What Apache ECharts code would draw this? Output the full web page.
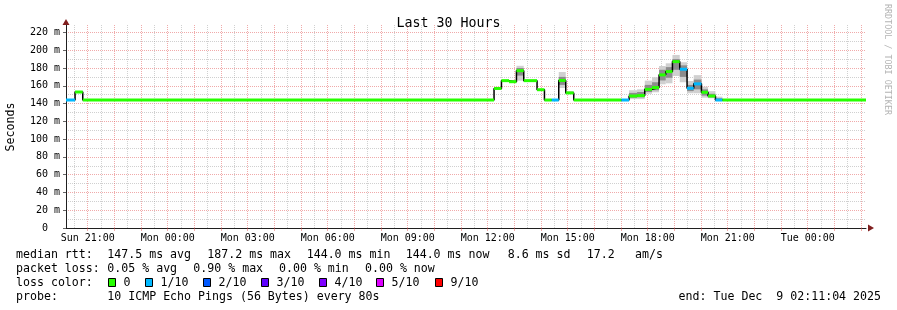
<!DOCTYPE html>
<html>
<head>
<meta charset="utf-8">
<script src="https://cdn.jsdelivr.net/npm/echarts@6/dist/echarts.min.js"></script>
<style>
html,body{margin:0;padding:0;background:#ffffff;}
#chart{width:897px;height:310px;}
</style>
</head>
<body>
<div id="chart"></div>
<script>
// ---- Data (time in hours since Sun 00:00, values in ms) ----
const startHour = 20.1844;   // Sun 20:11:04
const endHour = 50.1844;     // Tue 02:11:04
const stepStart = [20.184, 20.524, 20.813, 36.236, 36.514, 36.799, 37.076, 37.350, 37.849, 38.126,
                   38.400, 38.663, 38.925, 39.225, 41.014, 41.299, 41.599, 41.888, 42.161, 42.424,
                   42.675, 42.926, 43.200, 43.474, 43.725, 44.014, 44.261, 44.539, 44.801];
const median =    [144.0, 153.0, 144.0, 157.0, 165.8, 164.6, 177.0, 165.8, 155.6, 144.0,
                   144.0, 166.0, 152.0, 144.0, 144.0, 148.5, 149.0, 156.0, 158.0, 172.3,
                   176.0, 187.2, 178.6, 157.2, 162.2, 152.7, 148.5, 144.0, 144.0];
const lossCount = [1, 0, 0, 0, 0, 0, 0, 0, 0, 0,
                   1, 0, 0, 0, 1, 0, 0, 0, 0, 0,
                   0, 0, 1, 1, 1, 0, 0, 1, 0];
const smokeMin =  [144.0, 153.0, 144.0, 156.5, 165.3, 164.1, 165.8, 165.5, 155.3, 144.0,
                   144.0, 157.5, 150.8, 144.0, 144.0, 145.0, 145.0, 151.0, 152.7, 161.7,
                   162.8, 171.0, 164.0, 151.6, 151.6, 146.6, 146.0, 143.0, 144.0];
const smokeMax =  [144.0, 153.0, 144.0, 157.8, 166.5, 165.2, 182.5, 166.3, 156.0, 144.0,
                   144.0, 175.5, 154.0, 144.0, 144.0, 155.0, 156.0, 165.8, 169.6, 182.3,
                   185.3, 194.7, 186.5, 165.4, 172.0, 159.0, 154.0, 147.8, 144.0];
const smokeInnerLo = [144.0, 153.0, 144.0, 156.8, 165.5, 164.3, 171.5, 165.6, 155.4, 144.0,
                   144.0, 161.0, 151.5, 144.0, 144.0, 146.5, 147.0, 153.0, 155.0, 166.0,
                   169.0, 178.0, 170.0, 154.0, 156.0, 149.0, 147.0, 143.5, 144.0];
const smokeInnerHi = [144.0, 153.0, 144.0, 157.4, 166.1, 164.9, 180.0, 166.0, 155.8, 144.0,
                   144.0, 170.0, 153.0, 144.0, 144.0, 152.0, 153.0, 161.0, 164.0, 178.0,
                   181.0, 190.0, 183.0, 161.0, 167.0, 156.0, 151.0, 146.0, 144.0];

const xTickHours  = [21, 24, 27, 30, 33, 36, 39, 42, 45, 48];
const xTickLabels = ['Sun 21:00','Mon 00:00','Mon 03:00','Mon 06:00','Mon 09:00',
                     'Mon 12:00','Mon 15:00','Mon 18:00','Mon 21:00','Tue 00:00'];
const yTickValues = [0, 20, 40, 60, 80, 100, 120, 140, 160, 180, 200, 220];
const yTickLabels = ['0  ','20 m','40 m','60 m','80 m','100 m','120 m','140 m','160 m','180 m','200 m','220 m'];
const yMinorValues = [10, 30, 50, 70, 90, 110, 130, 150, 170, 190, 210];

const lossLevels = [0, 1, 2, 3, 4, 5, 9];
const lossLabels = ['0', '1/10', '2/10', '3/10', '4/10', '5/10', '9/10'];
const lossColors = ['#26ff00', '#00b8ff', '#0059ff', '#5e00ff', '#7e00ff', '#dd00ff', '#ff0000'];

const titleText = 'Last 30 Hours';
const yAxisTitle = 'Seconds';
const rttHeader = 'median rtt:';
const rttStats = ['147.5 ms avg', '187.2 ms max', '144.0 ms min', '144.0 ms now', '8.6 ms sd', '17.2', 'am/s'];
const lossHeader = 'packet loss:';
const lossStats = ['0.05 % avg', '0.90 % max', '0.00 % min', '0.00 % now'];
const colorHeader = 'loss color:';
const probeHeader = 'probe:';
const probeText = '10 ICMP Echo Pings (56 Bytes) every 80s';
const endText = 'end: Tue Dec  9 02:11:04 2025';
const watermark = 'RRDTOOL / TOBI OETIKER';

// ---- grid helper ticks ----
const xHourGrid = [];
for (let h = 21; h <= 50; h++) xHourGrid.push(h);
const xHalfGrid = [];
for (let h = 20; h <= 49; h++) xHalfGrid.push(h + 0.5);

// ---- build series data ----
const segData = stepStart.map((s, i) => {
  const e = i + 1 < stepStart.length ? stepStart[i + 1] : endHour;
  return [s, e, median[i], lossCount[i], smokeMin[i], smokeMax[i], smokeInnerLo[i], smokeInnerHi[i]];
});
const stepLine = stepStart.map((s, i) => [s, median[i]]);
stepLine.push([endHour, median[median.length - 1]]);

function lossColor(n) {
  const k = lossLevels.indexOf(n);
  return lossColors[k >= 0 ? k : lossColors.length - 1];
}

const MONO = 'DejaVu Sans Mono';
const GRID_MINOR = 'rgba(150,150,150,0.45)';
const GRID_MAJOR = 'rgba(225,85,85,0.5)';
const ARROW = '#801f1f';

function smokeRender(loIdx, hiIdx, fill) {
  return function (params, api) {
    const x0 = api.value(0), x1 = api.value(1);
    const lo = api.value(loIdx), hi = api.value(hiIdx);
    if (hi - lo <= 0) return null;
    const p0 = api.coord([x0, hi]);
    const p1 = api.coord([x1, lo]);
    return {
      type: 'rect',
      shape: { x: p0[0], y: p0[1], width: p1[0] - p0[0], height: p1[1] - p0[1] },
      style: { fill: fill }
    };
  };
}

// ---- legend graphics ----
const graphics = [];
function addText(t, x, y, opts) {
  graphics.push(Object.assign({
    type: 'text', x: x, y: y,
    style: { text: t, font: '11.6px "' + MONO + '"', fill: '#000', align: 'left', verticalAlign: 'middle' }
  }, opts || {}));
}
const rowY = [254.5, 268.5, 282.5, 296.5];
addText(rttHeader, 16, rowY[0]);
const rttX = [107.3, 207.3, 306.7, 405.7, 507.7, 586.7, 635];
rttStats.forEach((t, i) => addText(t, rttX[i], rowY[0]));
addText(lossHeader, 16, rowY[1]);
const lossX = [107.3, 193.3, 279, 365];
lossStats.forEach((t, i) => addText(t, lossX[i], rowY[1]));
addText(colorHeader, 16, rowY[2]);
const boxX = [108.5, 145.5, 203.5, 261.5, 319.5, 376.5, 435.5];
lossLabels.forEach((t, i) => {
  graphics.push({
    type: 'rect',
    shape: { x: boxX[i], y: 278.5, width: 7, height: 8 },
    style: { fill: lossColors[i], stroke: '#000', lineWidth: 1 }
  });
  addText(t, boxX[i] + 15, rowY[2]);
});
addText(probeHeader, 16, rowY[3]);
addText(probeText, 107.3, rowY[3]);
graphics.push({
  type: 'text', x: 881, y: rowY[3],
  style: { text: endText, font: '11.6px "' + MONO + '"', fill: '#000', align: 'right', verticalAlign: 'middle' }
});
graphics.push({
  type: 'text', x: 11, y: 127, rotation: Math.PI / 2,
  style: { text: yAxisTitle, font: '11.6px "' + MONO + '"', fill: '#000', align: 'center', verticalAlign: 'middle' }
});
graphics.push({
  type: 'text', x: 887.5, y: 59.5, rotation: -Math.PI / 2,
  style: { text: watermark, font: '8.4px "' + MONO + '"', fill: '#b4b4b4', align: 'center', verticalAlign: 'middle' }
});

const chart = echarts.init(document.getElementById('chart'), null, { renderer: 'canvas' });
chart.setOption({
  animation: false,
  backgroundColor: '#ffffff',
  title: {
    text: titleText, left: 'center', top: 12,
    textStyle: { fontFamily: MONO, fontSize: 13.3, fontWeight: 'normal', color: '#000' }
  },
  grid: { left: 66, right: 31, top: 25, bottom: 82, containLabel: false },
  xAxis: [
    {
      type: 'value', min: startHour, max: endHour, position: 'bottom', offset: 0,
      axisLine: { show: true, onZero: false, symbol: ['none', 'triangle'], symbolSize: [7, 6], symbolOffset: [0, 5],
                  lineStyle: { color: ARROW, width: 0 } },
      axisTick: { show: false, customValues: xHalfGrid },
      axisLabel: { show: false },
      splitLine: { show: true, lineStyle: { color: GRID_MINOR, type: [1, 1], width: 1 } }
    },
    {
      type: 'value', min: startHour, max: endHour, position: 'bottom', offset: 0,
      axisLine: { show: true, onZero: false, lineStyle: { color: '#1f1f1f', width: 1 } },
      axisTick: { show: true, customValues: xHourGrid, length: 3, lineStyle: { color: GRID_MAJOR } },
      axisLabel: {
        show: true, customValues: xTickHours, margin: 5,
        color: '#000', fontFamily: MONO, fontSize: 10,
        formatter: v => { const k = xTickHours.indexOf(Math.round(v)); return k >= 0 ? xTickLabels[k] : ''; }
      },
      splitLine: { show: true, lineStyle: { color: GRID_MAJOR, type: [1, 1], width: 1 } }
    }
  ],
  yAxis: [
    {
      type: 'value', min: 0, max: 228.4, position: 'left', offset: 0,
      axisLine: { show: true, onZero: false, symbol: ['none', 'triangle'], symbolSize: [7, 6], symbolOffset: [0, 3],
                  lineStyle: { color: ARROW, width: 0 } },
      axisTick: { show: false, customValues: yMinorValues },
      axisLabel: { show: false },
      splitLine: { show: true, lineStyle: { color: GRID_MINOR, type: [1, 1], width: 1 } }
    },
    {
      type: 'value', min: 0, max: 228.4, position: 'left', offset: 0,
      axisLine: { show: true, onZero: false, lineStyle: { color: '#1f1f1f', width: 1 } },
      axisTick: { show: true, customValues: yTickValues, length: 3, lineStyle: { color: '#666' } },
      axisLabel: {
        show: true, customValues: yTickValues, margin: 6,
        color: '#000', fontFamily: MONO, fontSize: 10,
        formatter: v => { const k = yTickValues.indexOf(Math.round(v)); return k >= 0 ? yTickLabels[k] : ''; }
      },
      splitLine: { show: true, lineStyle: { color: GRID_MAJOR, type: [1, 1], width: 1 } }
    }
  ],
  series: [
    {
      type: 'custom', name: 'smoke outer', xAxisIndex: 1, yAxisIndex: 1,
      renderItem: smokeRender(4, 5, '#d0d0d0'),
      encode: { x: [0, 1], y: [4, 5] },
      data: segData, z: 2, silent: true
    },
    {
      type: 'custom', name: 'smoke inner', xAxisIndex: 1, yAxisIndex: 1,
      renderItem: smokeRender(6, 7, '#8c8c8c'),
      encode: { x: [0, 1], y: [6, 7] },
      data: segData, z: 3, silent: true
    },
    {
      type: 'line', name: 'median step', xAxisIndex: 1, yAxisIndex: 1,
      step: 'end', showSymbol: false, symbol: 'none',
      lineStyle: { color: '#000', width: 1.5 },
      data: stepLine, z: 4, silent: true
    },
    {
      type: 'custom', name: 'median', xAxisIndex: 1, yAxisIndex: 1,
      renderItem: function (params, api) {
        const x0 = api.value(0), x1 = api.value(1), m = api.value(2), loss = api.value(3);
        const p0 = api.coord([x0, m]);
        const p1 = api.coord([x1, m]);
        return {
          type: 'rect',
          shape: { x: p0[0], y: p0[1] - 1.5, width: p1[0] - p0[0], height: 3 },
          style: { fill: lossColor(loss) }
        };
      },
      encode: { x: [0, 1], y: 2 },
      data: segData, z: 5, silent: true
    }
  ],
  graphic: graphics
});
</script>
</body>
</html>
